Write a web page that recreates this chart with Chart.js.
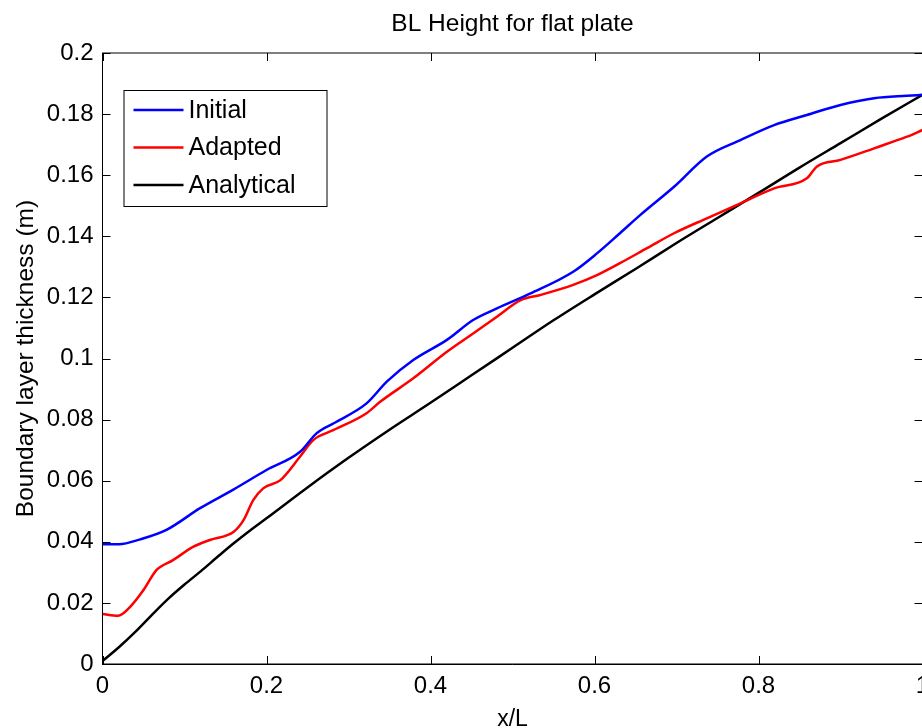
<!DOCTYPE html>
<html>
<head>
<meta charset="utf-8">
<script src="https://cdn.jsdelivr.net/npm/chart.js@4"></script>
<style>
  html, body { margin: 0; padding: 0; background: #fff; overflow: hidden; }
  #wrap { width: 922px; height: 728px; overflow: hidden; position: relative; }
  #box { width: 950px; height: 760px; }
</style>
</head>
<body>
<div id="wrap"><div id="box"><canvas id="blChart"></canvas></div></div>
<script>
const titleText = "BL Height for flat plate";
const xLabel = "x/L";
const yLabel = "Boundary layer thickness (m)";

const xTicks = [0, 0.2, 0.4, 0.6, 0.8, 1];
const yTicks = [0, 0.02, 0.04, 0.06, 0.08, 0.1, 0.12, 0.14, 0.16, 0.18, 0.2];

// Initial mesh
const xInitial = [0, 0.02, 0.046, 0.078, 0.119, 0.159, 0.2, 0.241, 0.261, 0.282, 0.322, 0.347, 0.379, 0.42, 0.452, 0.481, 0.522, 0.574, 0.603, 0.631, 0.656, 0.697, 0.737, 0.778, 0.819, 0.859, 0.9, 0.941, 0.981, 1.0];
const yInitial = [0.0392, 0.0392, 0.0408, 0.0439, 0.051, 0.057, 0.0635, 0.0695, 0.0755, 0.0788, 0.0853, 0.0925, 0.0995, 0.1061, 0.1126, 0.1164, 0.1213, 0.1284, 0.1344, 0.141, 0.147, 0.1562, 0.1661, 0.1715, 0.1764, 0.1797, 0.183, 0.1852, 0.186, 0.1863];

// Adapted mesh
const xAdapted = [0, 0.019, 0.034, 0.05, 0.066, 0.086, 0.111, 0.131, 0.16, 0.172, 0.184, 0.196, 0.217, 0.241, 0.257, 0.282, 0.322, 0.339, 0.379, 0.42, 0.452, 0.481, 0.51, 0.534, 0.574, 0.603, 0.631, 0.664, 0.697, 0.737, 0.778, 0.819, 0.859, 0.871, 0.9, 0.941, 0.981, 1.0];
const yAdapted = [0.0164, 0.0158, 0.0188, 0.0242, 0.0308, 0.034, 0.0384, 0.0406, 0.0433, 0.0471, 0.0537, 0.0575, 0.0602, 0.0679, 0.0733, 0.0766, 0.0821, 0.0859, 0.0935, 0.1022, 0.1082, 0.1137, 0.1191, 0.1208, 0.1241, 0.1273, 0.1312, 0.1361, 0.141, 0.1459, 0.1508, 0.1557, 0.159, 0.1628, 0.165, 0.1688, 0.1726, 0.1748];

// Analytical
const xAnalytical = [0, 0.02, 0.04, 0.06, 0.08, 0.1, 0.12, 0.14, 0.16, 0.18, 0.2, 0.25, 0.3, 0.35, 0.4, 0.45, 0.5, 0.55, 0.6, 0.65, 0.7, 0.75, 0.8, 0.85, 0.9, 0.95, 1.0];
const yAnalytical = [0.001, 0.0055, 0.0105, 0.016, 0.0213, 0.026, 0.0304, 0.035, 0.0395, 0.0437, 0.0477, 0.0578, 0.0675, 0.0767, 0.0855, 0.0945, 0.1035, 0.1125, 0.121, 0.1293, 0.1378, 0.146, 0.1542, 0.1625, 0.1705, 0.1785, 0.1863];

const FONT = "'Liberation Sans', Arial, Helvetica, sans-serif";

function pts(xs, ys) {
  return xs.map((x, i) => ({ x: x, y: ys[i] }));
}

function fmt(v) {
  return String(parseFloat(v.toFixed(3)));
}

// box around the axes + inward ticks like matlab
const boxPlugin = {
  id: "box",
  afterDraw(chart) {
    const { ctx, chartArea: a, scales } = chart;
    ctx.save();
    ctx.strokeStyle = "#000";
    ctx.lineWidth = 1;
    ctx.strokeRect(a.left, a.top, a.right - a.left, a.bottom - a.top);
    ctx.beginPath();
    xTicks.forEach(v => {
      const px = Math.round(scales.x.getPixelForValue(v)) + 0.5;
      ctx.moveTo(px, a.bottom); ctx.lineTo(px, a.bottom - 8);
      ctx.moveTo(px, a.top); ctx.lineTo(px, a.top + 8);
    });
    yTicks.forEach(v => {
      const py = Math.round(scales.y.getPixelForValue(v)) + 0.5;
      ctx.moveTo(a.left, py); ctx.lineTo(a.left + 8, py);
      ctx.moveTo(a.right, py); ctx.lineTo(a.right - 8, py);
    });
    ctx.stroke();
    ctx.restore();
  }
};

// legend box inside the plot, top left
const legendPlugin = {
  id: "boxLegend",
  afterDraw(chart) {
    const { ctx, chartArea: a } = chart;
    const x0 = a.left + 21, y0 = a.top + 37, w = 203, h = 116;
    ctx.save();
    ctx.fillStyle = "#fff";
    ctx.fillRect(x0, y0, w, h);
    ctx.strokeStyle = "#000";
    ctx.lineWidth = 1;
    ctx.strokeRect(x0 + 0.5, y0 + 0.5, w, h);
    ctx.font = "25px " + FONT;
    ctx.textBaseline = "middle";
    chart.data.datasets.forEach((ds, i) => {
      const y = y0 + 20 + i * 37.5;
      ctx.strokeStyle = ds.borderColor;
      ctx.lineWidth = 2.5;
      ctx.beginPath();
      ctx.moveTo(x0 + 10, y); ctx.lineTo(x0 + 60, y);
      ctx.stroke();
      ctx.fillStyle = "#000";
      ctx.fillText(ds.label, x0 + 65, y + 1);
    });
    ctx.restore();
  }
};

const ctx = document.getElementById("blChart").getContext("2d");
new Chart(ctx, {
  type: "line",
  data: {
    datasets: [
      { label: "Initial", data: pts(xInitial, yInitial), borderColor: "#0000ff" },
      { label: "Adapted", data: pts(xAdapted, yAdapted), borderColor: "#ff0000" },
      { label: "Analytical", data: pts(xAnalytical, yAnalytical), borderColor: "#000000" }
    ]
  },
  options: {
    responsive: true,
    maintainAspectRatio: false,
    animation: false,
    events: [],
    datasets: {
      line: { borderWidth: 2.5, pointRadius: 0, fill: false, cubicInterpolationMode: "monotone" }
    },
    layout: { padding: { left: 0, right: 27.5, top: 0, bottom: 0 } },
    plugins: {
      legend: { display: false },
      tooltip: { enabled: false },
      title: { display: false }
    },
    scales: {
      x: {
        type: "linear",
        min: 0, max: 1,
        afterFit(s) { s.height = 96; },
        afterBuildTicks(s) { s.ticks = xTicks.map(v => ({ value: v })); },
        grid: { display: false, drawTicks: false },
        border: { display: true, color: "#000" },
        ticks: { color: "#000", padding: 8, maxRotation: 0, font: { family: FONT, size: 24 }, callback: v => fmt(v) },
        title: { display: true, text: xLabel, color: "#000", font: { family: FONT, size: 23 }, padding: { top: 0, bottom: 27 } }
      },
      // top axis only carries the plot title, so it centres over the axes
      xTop: {
        type: "linear",
        position: "top",
        min: 0, max: 1,
        afterFit(s) { s.height = 53; },
        grid: { display: false, drawTicks: false },
        border: { display: false },
        ticks: { display: false },
        title: { display: true, text: titleText, color: "#000", font: { family: FONT, size: 24.5 }, padding: { top: 9.5, bottom: 0 } }
      },
      y: {
        type: "linear",
        min: 0, max: 0.2,
        afterFit(s) { s.width = 102.5; },
        afterBuildTicks(s) { s.ticks = yTicks.map(v => ({ value: v })); },
        grid: { display: false, drawTicks: false },
        border: { display: true, color: "#000" },
        ticks: { color: "#000", padding: 9, font: { family: FONT, size: 24 }, callback: v => fmt(v) },
        title: { display: true, text: yLabel, color: "#000", font: { family: FONT, size: 24.5 }, padding: { top: 12, bottom: 0 } }
      }
    }
  },
  plugins: [boxPlugin, legendPlugin]
});
</script>
</body>
</html>
